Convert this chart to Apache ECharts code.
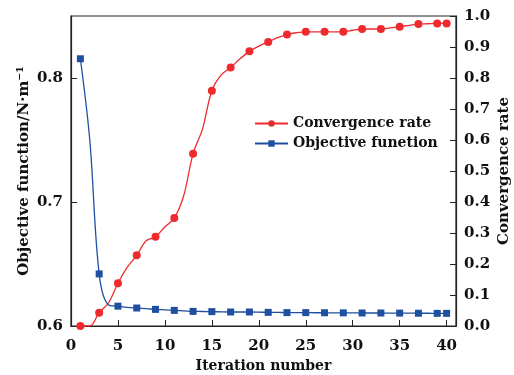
<!DOCTYPE html>
<html>
<head>
<meta charset="utf-8">
<script src="https://cdn.jsdelivr.net/npm/echarts@6/dist/echarts.min.js"></script>
<style>html,body{margin:0;padding:0;background:#fff}#c{width:514px;height:375px}</style>
</head>
<body>
<div id="c"></div>
<script>
var iterations = [1,2,3,4,5,6,7,8,9,10,11,12,13,14,15,16,17,18,19,20,21,22,23,24,25,26,27,28,29,30,31,32,33,34,35,36,37,38,39,40];
var convergenceRate = [0.0,0.0,0.043,0.075,0.138,0.19,0.228,0.275,0.288,0.32,0.348,0.42,0.556,0.635,0.759,0.81,0.834,0.862,0.886,0.903,0.916,0.93,0.940,0.946,0.949,0.949,0.949,0.949,0.949,0.954,0.958,0.958,0.958,0.962,0.965,0.970,0.974,0.975,0.976,0.976];
var objectiveFunction = [0.8155,0.75,0.642,0.617,0.616,0.615,0.6145,0.614,0.6134,0.613,0.6126,0.6122,0.6118,0.6117,0.6116,0.6114,0.6113,0.6113,0.6113,0.6112,0.611,0.611,0.6108,0.6108,0.6108,0.6107,0.6107,0.6106,0.6106,0.6106,0.6105,0.6105,0.6105,0.6104,0.6104,0.6104,0.6103,0.6103,0.6102,0.6102];
var markedIterations = [1,3,5,7,9,11,13,15,17,19,21,23,25,27,29,31,33,35,37,39,40];
var xTicks = [0,5,10,15,20,25,30,35,40];
var leftTicks = [0.6,0.7,0.8];
var names = ['Convergence rate','Objective funetion'];

var FONT = 'DejaVu Serif';
var AX = '#222';
var RED = '#ee2a2e';
var BLUE = '#1f50a0';

function build(vals){
  return iterations.map(function(it,i){
    var o = {value:[it, vals[i]]};
    if (markedIterations.indexOf(it) < 0) o.symbol = 'none';
    return o;
  });
}
var chart = echarts.init(document.getElementById('c'), null, {renderer:'canvas'});
chart.setOption({
  animation:false,
  backgroundColor:'#fff',
  grid:{left:71,right:58,top:16,bottom:49,show:true,borderColor:AX,borderWidth:1.2,containLabel:false,outerBoundsMode:'none'},
  legend:{
    orient:'vertical', left:249, top:110, itemWidth:33, itemHeight:8, itemGap:3,
    data:names,
    textStyle:{fontFamily:FONT,fontWeight:'bold',fontSize:14,color:'#111',lineHeight:17}
  },
  xAxis:{
    type:'value', min:0, max:41,
    name:'Iteration number', nameLocation:'middle', nameGap:33, nameMoveOverlap:false,
    nameTextStyle:{fontFamily:FONT,fontWeight:'bold',fontSize:14,color:'#111'},
    axisLine:{show:true,lineStyle:{color:AX,width:1.2}},
    axisTick:{show:true,inside:true,length:6,customValues:xTicks,lineStyle:{color:AX}},
    axisLabel:{customValues:xTicks,margin:13,fontFamily:FONT,fontWeight:'bold',fontSize:15,color:'#111'},
    splitLine:{show:false}
  },
  yAxis:[{
    type:'value', min:0.6, max:0.85, position:'left',
    name:'Objective function/N\u00b7m\u207b\u00b9', nameLocation:'middle', nameGap:39, nameMoveOverlap:false,
    nameTextStyle:{fontFamily:FONT,fontWeight:'bold',fontSize:15,color:'#111'},
    axisLine:{show:true,lineStyle:{color:AX,width:1.2}},
    axisTick:{show:true,inside:true,length:6,customValues:leftTicks,lineStyle:{color:AX}},
    axisLabel:{customValues:leftTicks,margin:8,fontFamily:FONT,fontWeight:'bold',fontSize:15,color:'#111',
      formatter:function(v){return v.toFixed(1);}},
    splitLine:{show:false}
  },{
    type:'value', min:0, max:1, interval:0.1, position:'right',
    name:'Convergence rate', nameLocation:'middle', nameGap:41, nameRotate:90, nameMoveOverlap:false,
    nameTextStyle:{fontFamily:FONT,fontWeight:'bold',fontSize:15,color:'#111'},
    axisLine:{show:true,lineStyle:{color:AX,width:1.2}},
    axisTick:{show:true,inside:true,length:6,lineStyle:{color:AX}},
    axisLabel:{margin:8,fontFamily:FONT,fontWeight:'bold',fontSize:15,color:'#111',
      formatter:function(v){return v.toFixed(1);}},
    splitLine:{show:false}
  }],
  series:[{
    name:names[0], type:'line', yAxisIndex:1, smooth:0.35,
    symbol:'circle', symbolSize:8, showAllSymbol:true,
    lineStyle:{color:RED,width:1.3}, itemStyle:{color:RED},
    data:build(convergenceRate), z:3
  },{
    name:names[1], type:'line', yAxisIndex:0, smooth:0.35,
    symbol:'rect', symbolSize:7, showAllSymbol:true,
    lineStyle:{color:BLUE,width:1.3}, itemStyle:{color:BLUE},
    data:build(objectiveFunction), z:4
  }]
});
</script>
</body>
</html>
